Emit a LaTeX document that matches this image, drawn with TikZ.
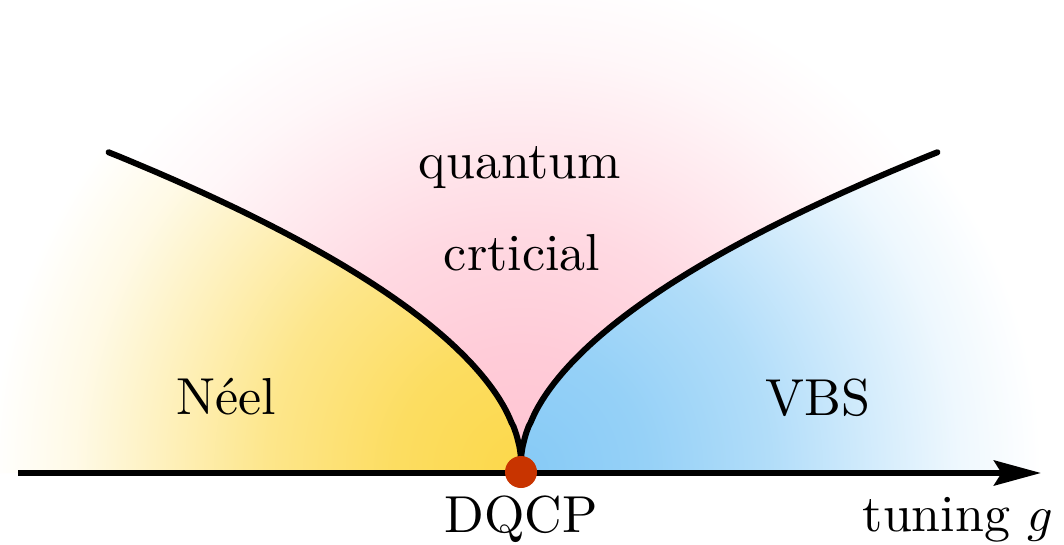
\documentclass[tikz,border=0pt]{standalone}
\usetikzlibrary{arrows.meta}
\definecolor{yellowc}{RGB}{252,216,74}
\definecolor{pinkc}{RGB}{255,196,210}
\definecolor{bluec}{RGB}{134,202,246}
\definecolor{dotc}{RGB}{200,52,0}
\pgfdeclareradialshading{yelshade}{\pgfpoint{0bp}{0bp}}{color(0bp)=(yellowc); color(6bp)=(yellowc!87); color(12bp)=(yellowc!64); color(17bp)=(yellowc!36); color(21bp)=(yellowc!14); color(25bp)=(white); color(50bp)=(white)}
\pgfdeclareradialshading{pinkshade}{\pgfpoint{0bp}{0bp}}{color(0bp)=(pinkc); color(6bp)=(pinkc!87); color(12bp)=(pinkc!64); color(17bp)=(pinkc!36); color(21bp)=(pinkc!14); color(25bp)=(white); color(50bp)=(white)}
\pgfdeclareradialshading{blueshade}{\pgfpoint{0bp}{0bp}}{color(0bp)=(bluec); color(6bp)=(bluec!87); color(12bp)=(bluec!64); color(17bp)=(bluec!36); color(21bp)=(bluec!14); color(25bp)=(white); color(50bp)=(white)}
\begin{document}
\begin{tikzpicture}[x=0.2pt,y=-0.2pt,
  lbl/.style={inner sep=0pt, anchor=base, font=\fontsize{10.4}{12}\selectfont},
  crit/.style={line width=1.2pt, line cap=round},
  axisline/.style={line width=1.2pt, -{Stealth[length=9.4pt,width=5pt,inset=1.5pt]}},
  qcpdot/.style={circle, fill=dotc, minimum size=6.4pt, inner sep=0pt}]
\useasboundingbox (0,0) rectangle (1064,545);
\fill[white] (0,0) rectangle (1064,545);
\coordinate (qcp) at (521,470);
\coordinate (tip) at (521,462);
% yellow region
\begin{scope}
\clip (0,473) -- plot[domain=1.134:0.001,samples=80] ({521-413*\x^1.85},{462-310*\x}) -- (tip) -- (521,473) -- cycle;
\shade[shading=yelshade] (qcp) circle (106pt);
\end{scope}
% pink region
\begin{scope}
\clip (0,0) -- plot[domain=1.134:0.001,samples=80] ({521-413*\x^1.85},{462-310*\x}) -- (tip) -- plot[domain=0.001:1.153,samples=80] ({521+417*\x^1.85},{462-310*\x}) -- (1064,0) -- cycle;
\shade[shading=pinkshade] (qcp) circle (100pt);
\end{scope}
% blue region
\begin{scope}
\clip (521,473) -- (tip) -- plot[domain=0.001:1.153,samples=80] ({521+417*\x^1.85},{462-310*\x}) -- (1064,473) -- cycle;
\shade[shading=blueshade] (qcp) circle (104pt);
\end{scope}
% critical lines
\draw[crit] (tip) -- plot[domain=0.001:1,samples=80] ({521-413*\x^1.85},{462-310*\x});
\draw[crit] (tip) -- plot[domain=0.001:1,samples=80] ({521+417*\x^1.85},{462-310*\x});
% axis
\coordinate (axs) at (18,473);
\coordinate (axe) at (1041,473);
\draw[axisline] (axs) -- (axe);
\node[qcpdot] (dqcpdot) at (521,472) {};
% labels
\node[lbl] (q1) at (520,179) {quantum};
\node[lbl] (q2) at (522,270) {crticial};
\node[lbl] (neel) at (226,414) {N\'eel};
\node[lbl] (vbs) at (818,415) {VBS};
\node[lbl] (dq) at (521,532) {DQCP};
\node[lbl] (tun) at (958,531) {tuning $g$};
\end{tikzpicture}
\end{document}
